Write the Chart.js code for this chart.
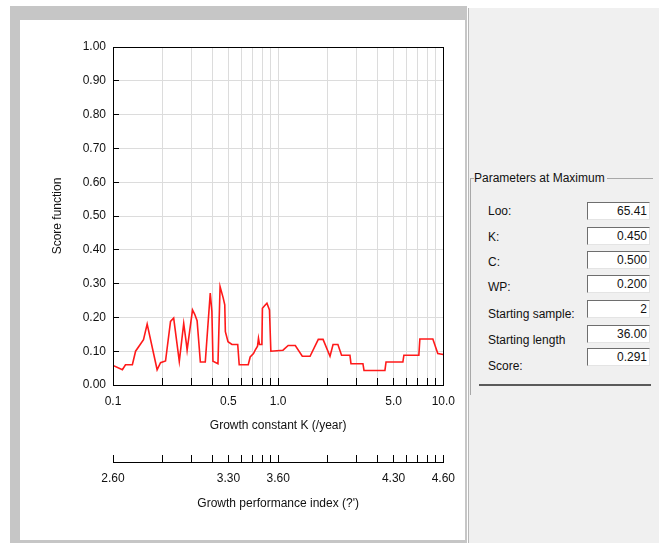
<!DOCTYPE html>
<html>
<head>
<meta charset="utf-8">
<script src="https://cdn.jsdelivr.net/npm/chart.js@4.4.1/dist/chart.umd.min.js"></script>
<style>
  body { margin: 0; width: 659px; height: 543px; position: relative; overflow: hidden; background: #fff;
         font-family: "Liberation Sans", Arial, sans-serif; font-size: 12px; color: #111; }
  #frame { position: absolute; left: 10px; top: 6px; width: 457px; height: 537px; background: #c6c6c6; }
  #panel { position: absolute; left: 20px; top: 20px; width: 445px; height: 520px; background: #fff; }
  #scoreChart { position: absolute; left: 0; top: 0; }
  #right { position: absolute; left: 468px; top: 8px; width: 191px; height: 535px; background: #f0f0f0;
           border-left: 1px solid #b8b8b8; }
  .abs { position: absolute; }
  .box { position: absolute; left: 118px; width: 59px; height: 16px; background: #fff;
         border-top: 1px solid #6e6e6e; border-left: 1px solid #6e6e6e;
         border-bottom: 1px solid #e4e4e4; border-right: 1px solid #e4e4e4;
         text-align: right; line-height: 16px; padding-right: 2px; box-sizing: content-box; }
  .lbl { position: absolute; left: 19px; line-height: 14px; }
</style>
</head>
<body>
<div id="frame"></div>
<div id="panel"><canvas id="scoreChart" width="451" height="520"></canvas></div>
<div id="right">
  <div class="abs" style="left:1px; top:170px; width:183px; height:1px; background:#a8a8a8;"></div>
  <div class="abs" style="left:1px; top:170px; width:1px; height:217px; background:#a8a8a8;"></div>
  <div class="abs" style="left:5px; top:162px; background:#f0f0f0; padding-right:2px; line-height:16px;">Parameters at Maximum</div>
  <div class="abs" style="left:10px; top:376px; width:172px; height:2px; background:#5a5a5a;"></div>
  <div id="params"></div>
</div>
<script>
// growth constant K (/year) and score function
const kValues = [0.100, 0.114, 0.119, 0.131, 0.137, 0.153, 0.161, 0.185, 0.194, 0.208,
                 0.223, 0.233, 0.252, 0.268, 0.278, 0.281, 0.303, 0.312, 0.323, 0.338,
                 0.362, 0.388, 0.397, 0.403, 0.432, 0.445, 0.465, 0.475, 0.479, 0.497,
                 0.525, 0.569, 0.581, 0.659, 0.677, 0.709, 0.726, 0.750, 0.760, 0.771,
                 0.797, 0.803, 0.830, 0.855, 0.886, 0.903, 1.07, 1.15, 1.27, 1.40,
                 1.56, 1.75, 1.87, 2.06, 2.15, 2.30, 2.42, 2.72, 2.76, 3.26,
                 3.31, 4.43, 4.50, 5.69, 5.77, 7.11, 7.21, 8.64, 9.26, 10.0];
const scores = [0.058, 0.045, 0.060, 0.060, 0.100, 0.134, 0.180, 0.045, 0.066, 0.071,
                0.188, 0.198, 0.070, 0.182, 0.123, 0.103, 0.222, 0.210, 0.190, 0.068,
                0.068, 0.272, 0.217, 0.070, 0.063, 0.291, 0.257, 0.237, 0.158, 0.128,
                0.120, 0.120, 0.060, 0.060, 0.083, 0.093, 0.103, 0.115, 0.138, 0.120,
                0.120, 0.227, 0.235, 0.242, 0.222, 0.100, 0.103, 0.117, 0.117, 0.085,
                0.085, 0.135, 0.135, 0.085, 0.120, 0.120, 0.088, 0.088, 0.063, 0.063,
                0.043, 0.043, 0.068, 0.068, 0.088, 0.088, 0.136, 0.136, 0.093, 0.090];

const kTicks = [0.1, 0.2, 0.3, 0.4, 0.5, 0.6, 0.7, 0.8, 0.9, 1, 2, 3, 4, 5, 6, 7, 8, 9, 10];
const kTickLabels = ['0.1', '', '', '', '0.5', '', '', '', '', '1.0', '', '', '', '5.0', '', '', '', '', '10.0'];
const phiTickLabels = ['2.60', '', '', '', '3.30', '', '', '', '', '3.60', '', '', '', '4.30', '', '', '', '', '4.60'];

const paramLabels = ['Loo:', 'K:', 'C:', 'WP:', 'Starting sample:', 'Starting length', 'Score:'];
const paramValues = ['65.41', '0.450', '0.500', '0.200', '2', '36.00', '0.291'];

// parameter panel
const labelTops = [196, 222, 247, 272, 299, 325, 351];
const boxTops = [194, 219, 243, 267, 292, 317, 340];
let html = '';
paramLabels.forEach((l, i) => {
    html += '<div class="lbl" style="top:' + labelTops[i] + 'px">' + l + '</div>';
    html += '<div class="box" style="top:' + boxTops[i] + 'px">' + paramValues[i] + '</div>';
});
document.getElementById('params').innerHTML = html;

const font = { family: "'Liberation Sans', Arial, sans-serif", size: 12 };

const framePlugin = {
    id: 'frame',
    afterDraw(chart) {
        const { ctx, chartArea: a } = chart;
        ctx.save();
        ctx.strokeStyle = '#000';
        ctx.lineWidth = 1;
        ctx.strokeRect(Math.round(a.left) + 0.5, Math.round(a.top) + 0.5,
                       Math.round(a.right - a.left), Math.round(a.bottom - a.top));
        ctx.restore();
    }
};

const setTicks = scale => { scale.ticks = kTicks.map(v => ({ value: v })); };

new Chart(document.getElementById('scoreChart'), {
    type: 'line',
    data: {
        datasets: [{
            data: kValues.map((k, i) => ({ x: k, y: scores[i] })),
            borderColor: '#ff1a1a',
            borderWidth: 1.6,
            pointRadius: 0,
            tension: 0,
            fill: false,
            xAxisID: 'x',
            yAxisID: 'y'
        }]
    },
    options: {
        responsive: false,
        devicePixelRatio: 1,
        animation: false,
        layout: { padding: { top: 27, right: 16, bottom: 16, left: 0 } },
        plugins: { legend: { display: false }, tooltip: { enabled: false } },
        scales: {
            x: {
                type: 'logarithmic',
                position: 'bottom',
                weight: 0,
                min: 0.1,
                max: 10,
                afterBuildTicks: setTicks,
                afterFit: s => { s.height = 77; },
                grid: { color: '#dcdcdc', tickColor: '#000', tickLength: -7 },
                border: { color: '#000' },
                ticks: {
                    autoSkip: false, maxRotation: 0, padding: 16, color: '#111', font,
                    callback: (v, i) => kTickLabels[i]
                },
                title: { display: true, text: 'Growth constant K (/year)', color: '#111', font,
                         padding: { top: 0, bottom: 29 } }
            },
            x2: {
                type: 'logarithmic',
                position: 'bottom',
                weight: 1,
                min: 0.1,
                max: 10,
                afterBuildTicks: setTicks,
                afterFit: s => { s.height = 62; },
                grid: { drawOnChartArea: false, color: '#000', tickColor: '#000', tickLength: -7 },
                border: { color: '#000' },
                ticks: {
                    autoSkip: false, maxRotation: 0, padding: 16, color: '#111', font,
                    callback: (v, i) => phiTickLabels[i]
                },
                title: { display: true, text: "Growth performance index (?')", color: '#111', font,
                         padding: { top: 0, bottom: 13 } }
            },
            y: {
                type: 'linear',
                min: 0,
                max: 1,
                afterFit: s => { s.width = 93; },
                grid: { color: '#dcdcdc', tickColor: '#000', tickLength: -6 },
                border: { color: '#000' },
                ticks: { stepSize: 0.1, padding: 13, color: '#111', font,
                         callback: v => v.toFixed(2) },
                title: { display: true, text: 'Score function', color: '#111', font,
                         padding: { top: 30, bottom: 0 } }
            }
        }
    },
    plugins: [framePlugin]
});
</script>
</body>
</html>
